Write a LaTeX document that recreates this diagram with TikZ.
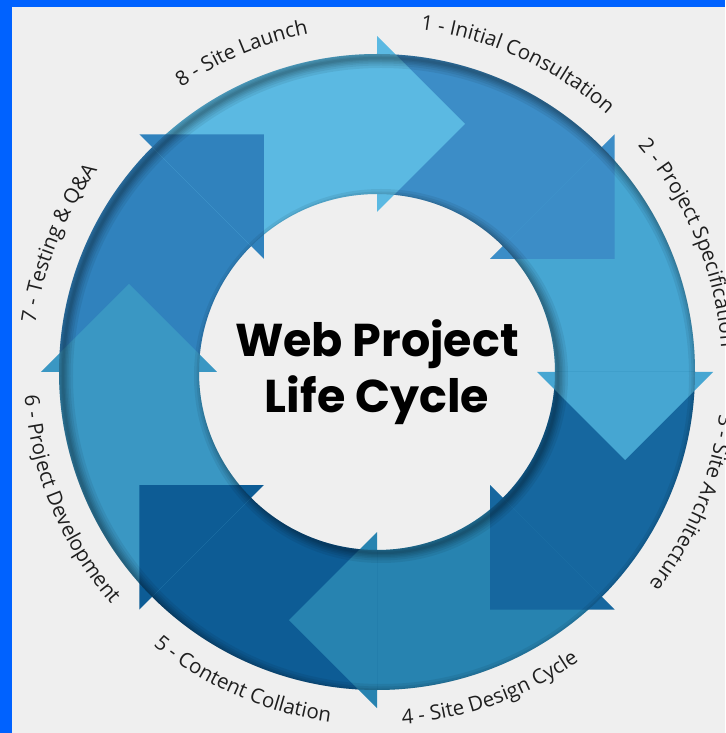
\documentclass[tikz,border=0pt]{standalone}
\usepackage{fontspec}
\newfontfamily\LabelFamily{Open Sans}
\newfontfamily\TitleFamily{Poppins}
\usetikzlibrary{decorations.text}

\definecolor{framecol}{RGB}{0,98,255}
\definecolor{paper}{RGB}{239,239,239}
\definecolor{stepOne}{HTML}{3C8DC7}
\definecolor{stepTwo}{HTML}{46A6D2}
\definecolor{stepThree}{HTML}{16679F}
\definecolor{stepFour}{HTML}{2783B0}
\definecolor{stepFive}{HTML}{0D5C95}
\definecolor{stepSix}{HTML}{3A97C3}
\definecolor{stepSeven}{HTML}{3082BD}
\definecolor{stepEight}{HTML}{5BB9E2}

\newcommand{\LabelFont}{\LabelFamily\fontsize{20.5pt}{24pt}\selectfont}

% ring segment ending at angle #1 (runs 1 degree under its own head)
\newcommand{\ArrowBody}[2]{
\fill[#2] (#1+45:318pt) arc[start angle=#1+45, end angle=#1-1, radius=318pt]
  -- (#1-1:178pt) arc[start angle=#1-1, end angle=#1+45, radius=178pt] -- cycle;
}
% arrow head, barbs on angle #1
\newcommand{\ArrowHead}[2]{
\fill[#2, rotate=#1] (336pt,0pt) -- (248pt,-88pt) -- (160pt,0pt) -- cycle;
}
% soft inner shadow along a circle of radius #1
\newcommand{\RingShadow}[1]{
\draw[shadowline, line width=20pt] (4pt,-4pt) circle (#1);
\draw[shadowline, line width=15pt] (4pt,-4pt) circle (#1);
\draw[shadowline, line width=11pt] (4pt,-4pt) circle (#1);
\draw[shadowline, line width=8pt] (4pt,-4pt) circle (#1);
\draw[shadowline, line width=5pt] (4pt,-4pt) circle (#1);
\draw[shadowline, line width=2.5pt] (4pt,-4pt) circle (#1);
}
% label read clockwise (tops outside)
\newcommand{\StepLabelOut}[2]{
\path[steplabel, decoration={text={|\LabelFont|#2}}]
  (#1+40:345pt) arc[start angle=#1+40, end angle=#1-40, radius=345pt];
}
% label read counter clockwise (tops inside)
\newcommand{\StepLabelIn}[2]{
\path[steplabel, decoration={text={|\LabelFont|#2}}]
  (#1-40:353pt) arc[start angle=#1-40, end angle=#1+40, radius=353pt];
}

\begin{document}
\begin{tikzpicture}[
steplabel/.style={decorate, decoration={text along path, text align=center, text color=black!88}},
title/.style={anchor=base, inner sep=0pt, font=\TitleFamily\bfseries\fontsize{46pt}{56pt}\selectfont},
shadowline/.style={black, opacity=.065},
]
%%%%%%%%%%%% SIZE OF THE PICTURE
\useasboundingbox (-377pt,-361pt) rectangle (348pt,372pt);
\fill[paper] (-377pt,-361pt) rectangle (348pt,372pt);

%%%%%%%%%%%% BODIES
\ArrowBody{45}{stepOne}
\ArrowBody{0}{stepTwo}
\ArrowBody{-45}{stepThree}
\ArrowBody{-90}{stepFour}
\ArrowBody{-135}{stepFive}
\ArrowBody{180}{stepSix}
\ArrowBody{135}{stepSeven}
\ArrowBody{90}{stepEight}

%%%%%%%%%%%% HEADS
\ArrowHead{45}{stepOne}
\ArrowHead{0}{stepTwo}
\ArrowHead{-45}{stepThree}
\ArrowHead{-90}{stepFour}
\ArrowHead{-135}{stepFive}
\ArrowHead{180}{stepSix}
\ArrowHead{135}{stepSeven}
\ArrowHead{90}{stepEight}

%%%%%%%%%%%% SHADOWS
\begin{scope}
  \clip (0pt,0pt) circle (318pt);
  \RingShadow{318pt}
\end{scope}
\begin{scope}
  \clip (-340pt,-340pt) rectangle (340pt,340pt) (0pt,0pt) circle (178pt);
  \RingShadow{177pt}
\end{scope}

%%%%%%%%%%%% LABELS
\StepLabelOut{65.5}{1 - Initial Consultation}
\StepLabelOut{22.5}{2 - Project Specification}
\StepLabelOut{-22.5}{3 - Site Architecture}
\StepLabelIn{-70.5}{4 - Site Design Cycle}
\StepLabelIn{-113.5}{5 - Content Collation}
\StepLabelIn{-157.5}{6 - Project Development}
\StepLabelOut{158}{7 - Testing {\&} Q{\&}A}
\StepLabelOut{113}{8 - Site Launch}

%%%%%%%%%%%% TITLE
\node[title] (webproject) at (0pt,15pt) {Web Project};
\node[title] (lifecycle) at (0pt,-41pt) {Life Cycle};

%%%%%%%%%%%% FRAME
\fill[framecol] (-377pt,-361pt) rectangle (-365pt,372pt);
\fill[framecol] (-377pt,365pt) rectangle (348pt,372pt);
\end{tikzpicture}
\end{document}
